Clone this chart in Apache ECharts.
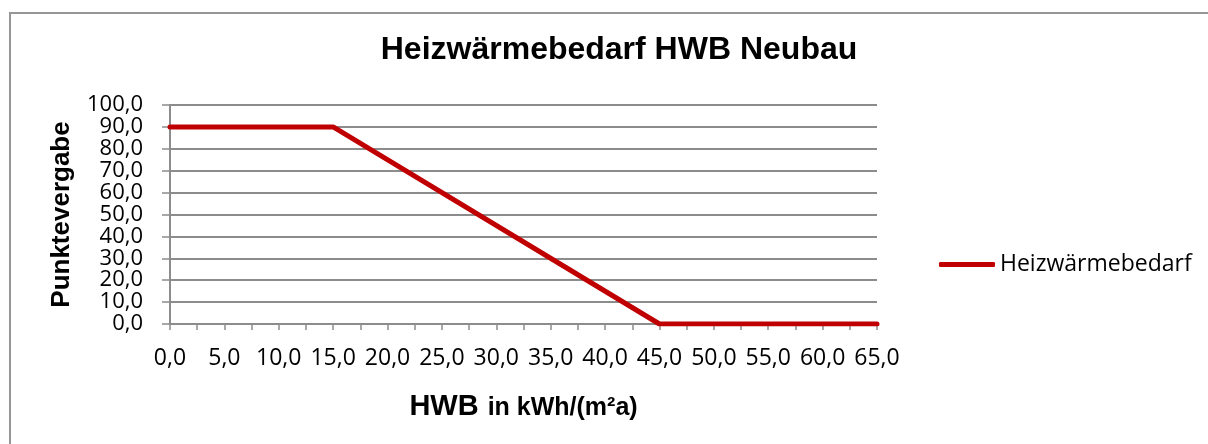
<!DOCTYPE html>
<html>
<head>
<meta charset="utf-8">
<script src="https://cdn.jsdelivr.net/npm/echarts@6/dist/echarts.min.js"></script>
<style>
  html, body { margin: 0; padding: 0; background: #fff; overflow: hidden; }
  #frame {
    position: absolute; left: 9px; top: 12px;
    width: 1300px; height: 500px;
    border: 2px solid #969696; box-sizing: border-box;
  }
  #main { position: absolute; left: 0; top: 0; width: 1208px; height: 444px; }
</style>
</head>
<body>
<div id="frame"></div>
<div id="main"></div>
<script>
// HWB (kWh/(m²a)) und zugehörige Punkte
const hwb = [0, 15, 45, 65];
const punkte = [90, 90, 0, 0];
const seriesName = 'Heizwärmebedarf';

const labelFont = '"Open Sans", sans-serif';
const boldFont = '"Liberation Sans", Arial, sans-serif';

function komma(v) {
  return v.toFixed(1).replace('.', ',');
}

const chart = echarts.init(document.getElementById('main'), null, { renderer: 'canvas' });

const option = {
  animation: false,
  title: {
    text: 'Heizwärmebedarf HWB Neubau',
    left: 614,
    top: 29,
    textAlign: 'center',
    textStyle: { fontFamily: boldFont, fontWeight: 'bold', fontSize: 32, color: '#000' }
  },
  legend: {
    left: 934,
    top: 248,
    itemWidth: 56,
    itemHeight: 5,
    itemGap: 4,
    icon: 'roundRect',
    textStyle: { fontFamily: labelFont, fontSize: 23, color: '#000' },
    data: [seriesName]
  },
  grid: { left: 170, right: 331, top: 105, bottom: 120, containLabel: false },
  xAxis: {
    type: 'value',
    min: 0,
    max: 65,
    interval: 5,
    name: '{a|HWB}{b|in kWh/(m²a)}',
    nameLocation: 'middle',
    nameGap: 68,
    nameTextStyle: {
      rich: {
        a: { fontFamily: boldFont, fontWeight: 'bold', fontSize: 29, color: '#000' },
        b: { fontFamily: boldFont, fontWeight: 'bold', fontSize: 25, color: '#000', padding: [3, 0, 0, 9] }
      }
    },
    axisLine: { show: true, lineStyle: { color: '#8c8c8c', width: 2 } },
    axisTick: { show: true, length: 6, lineStyle: { color: '#8c8c8c', width: 1.5 } },
    minorTick: { show: true, splitNumber: 2, length: 6, lineStyle: { color: '#8c8c8c', width: 1.5 } },
    splitLine: { show: false },
    axisLabel: {
      margin: 23,
      fontFamily: labelFont, fontSize: 23, color: '#000',
      showMinLabel: true, showMaxLabel: true, hideOverlap: false,
      formatter: komma
    }
  },
  yAxis: {
    type: 'value',
    min: 0,
    max: 100,
    interval: 10,
    name: 'Punktevergabe',
    nameLocation: 'middle',
    nameGap: 95,
    nameTextStyle: { fontFamily: boldFont, fontWeight: 'bold', fontSize: 26, color: '#000' },
    axisLine: { show: true, lineStyle: { color: '#8c8c8c', width: 2 } },
    axisTick: { show: true, length: 8, lineStyle: { color: '#8c8c8c', width: 1.5 } },
    splitLine: { show: true, lineStyle: { color: '#8c8c8c', width: 2 } },
    axisLabel: {
      margin: 27,
      fontFamily: labelFont, fontSize: 22, color: '#000',
      showMinLabel: true, showMaxLabel: true, hideOverlap: false,
      formatter: komma
    }
  },
  series: [{
    name: seriesName,
    type: 'line',
    data: hwb.map((x, i) => [x, punkte[i]]),
    showSymbol: false,
    symbol: 'none',
    lineStyle: { color: '#c00000', width: 5, cap: 'round', join: 'round' },
    itemStyle: { color: '#c00000' }
  }]
};

chart.setOption(option);
</script>
</body>
</html>
